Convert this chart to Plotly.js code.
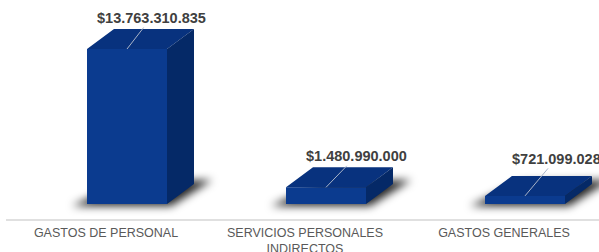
<!DOCTYPE html>
<html>
<head>
<meta charset="utf-8">
<script src="https://cdn.plot.ly/plotly-3.0.1.min.js"></script>
<style>
html,body{margin:0;padding:0;background:#fff;}
#chart{width:599px;height:252px;}
</style>
</head>
<body>
<div id="chart"></div>
<script>
// ---- data ----
const categories = ["GASTOS DE PERSONAL", "SERVICIOS PERSONALES<br>INDIRECTOS", "GASTOS GENERALES"];
const values = [13763310835, 1480990000, 721099028];
const valueLabels = ["$13.763.310.835", "$1.480.990.000", "$721.099.028"];

// ---- layout geometry (pixels) ----
const W = 599, H = 252;
const mL = 6, mR = 0, mT = 0, mB = 33;
const plotW = W - mL - mR, plotH = H - mT - mB;
const pxPerCat = 199;
const xMin = -100 / pxPerCat;
const xMax = xMin + plotW / pxPerCat;
const pxPerVal = 155 / values[0];
const yMin = -15 / pxPerVal;
const yMax = yMin + plotH / pxPerVal;

const frontOff = 21 / pxPerCat;   // front face shift right of category
const barW = 80 / pxPerCat;       // front face width
const dX = 27 / pxPerCat;         // depth x
const dY = 20 / pxPerVal;         // depth y

const frontColor = "#0B3B8F";
const topColor = "#08327E";
const sideColor = "#052967";

const idx = categories.map((_, i) => i);
const cx = idx.map(i => i + frontOff);

function polys(fn) {
  const xs = [], ys = [];
  values.forEach((v, i) => {
    const p = fn(v, cx[i] - barW / 2, cx[i] + barW / 2);
    p.forEach(q => { xs.push(q[0]); ys.push(q[1]); });
    xs.push(null); ys.push(null);
  });
  return {xs, ys};
}

const topP = polys((v, xl, xr) => [[xl, v], [xr, v], [xr + dX, v + dY], [xl + dX, v + dY], [xl, v]]);
const sideP = polys((v, xl, xr) => [[xr, 0], [xr + dX, dY], [xr + dX, v + dY], [xr, v], [xr, 0]]);
const shP = 1 / pxPerVal;
const shadowP = polys((v, xl, xr) => [
  [xl - 15 / pxPerCat, -2 * shP], [xr + 4 / pxPerCat, -2 * shP],
  [xr + dX + 18 / pxPerCat, dY + 4 * shP], [xl + dX + 10 / pxPerCat, dY + 2 * shP],
  [xl - 15 / pxPerCat, -2 * shP]
]);

const traces = [
  {type: "scatter", mode: "lines", x: shadowP.xs, y: shadowP.ys, fill: "toself",
   fillcolor: "rgba(0,0,0,0.85)", line: {width: 0}, hoverinfo: "skip", xaxis: "x", yaxis: "y"},
  {type: "bar", x: cx, y: values, base: 0, width: barW,
   marker: {color: frontColor, line: {width: 0}}, hoverinfo: "skip", xaxis: "x2", yaxis: "y2"},
  {type: "scatter", mode: "lines", x: topP.xs, y: topP.ys, fill: "toself",
   fillcolor: topColor, line: {width: 0}, hoverinfo: "skip", xaxis: "x2", yaxis: "y2"},
  {type: "scatter", mode: "lines", x: sideP.xs, y: sideP.ys, fill: "toself",
   fillcolor: sideColor, line: {width: 0}, hoverinfo: "skip", xaxis: "x2", yaxis: "y2"}
];

const labelAx = [24, 30, 31];
const labelAy = [-31, -31, -37];

const annotations = values.map((v, i) => ({
  x: cx[i], y: v, xref: "x2", yref: "y2",
  text: valueLabels[i], showarrow: true, arrowhead: 0, arrowwidth: 1,
  arrowcolor: "#a9b4c8", ax: labelAx[i], ay: labelAy[i],
  font: {family: "Liberation Sans, Arial, sans-serif", size: 14.5, color: "#404040", weight: "bold"}
}));

const layout = {
  width: W, height: H,
  margin: {l: mL, r: mR, t: mT, b: mB, pad: 0},
  paper_bgcolor: "#ffffff", plot_bgcolor: "rgba(0,0,0,0)",
  showlegend: false,
  font: {family: "Liberation Sans, Arial, sans-serif"},
  xaxis: {range: [xMin, xMax], tickmode: "array", tickvals: idx, ticktext: categories,
    showgrid: false, zeroline: false, showline: true, linecolor: "#e0e0e0", linewidth: 2,
    ticks: "", ticklabelstandoff: 1, tickfont: {size: 12.5, color: "#595959"}, fixedrange: true},
  yaxis: {range: [yMin, yMax], visible: false, showgrid: false, zeroline: false, fixedrange: true},
  xaxis2: {range: [xMin, xMax], overlaying: "x", visible: false, fixedrange: true},
  yaxis2: {range: [yMin, yMax], overlaying: "y", visible: false, fixedrange: true},
  annotations: annotations
};

Plotly.newPlot("chart", traces, layout, {displayModeBar: false, staticPlot: true}).then(gd => {
  const svg = gd.querySelector(".main-svg");
  const ns = "http://www.w3.org/2000/svg";
  let defs = svg.querySelector("defs");
  if (!defs) { defs = document.createElementNS(ns, "defs"); svg.insertBefore(defs, svg.firstChild); }
  const f = document.createElementNS(ns, "filter");
  f.setAttribute("id", "shadowBlur");
  f.setAttribute("x", "-50%"); f.setAttribute("y", "-50%");
  f.setAttribute("width", "200%"); f.setAttribute("height", "200%");
  const b = document.createElementNS(ns, "feGaussianBlur");
  b.setAttribute("stdDeviation", "4");
  f.appendChild(b); defs.appendChild(f);
  gd.querySelectorAll(".js-fill").forEach(p => {
    const fill = (p.style.fill || "").replace(/\s/g, "");
    if (fill === "rgb(0,0,0)" || fill.indexOf("rgba(0,0,0") === 0) p.setAttribute("filter", "url(#shadowBlur)");
  });
});
</script>
</body>
</html>
